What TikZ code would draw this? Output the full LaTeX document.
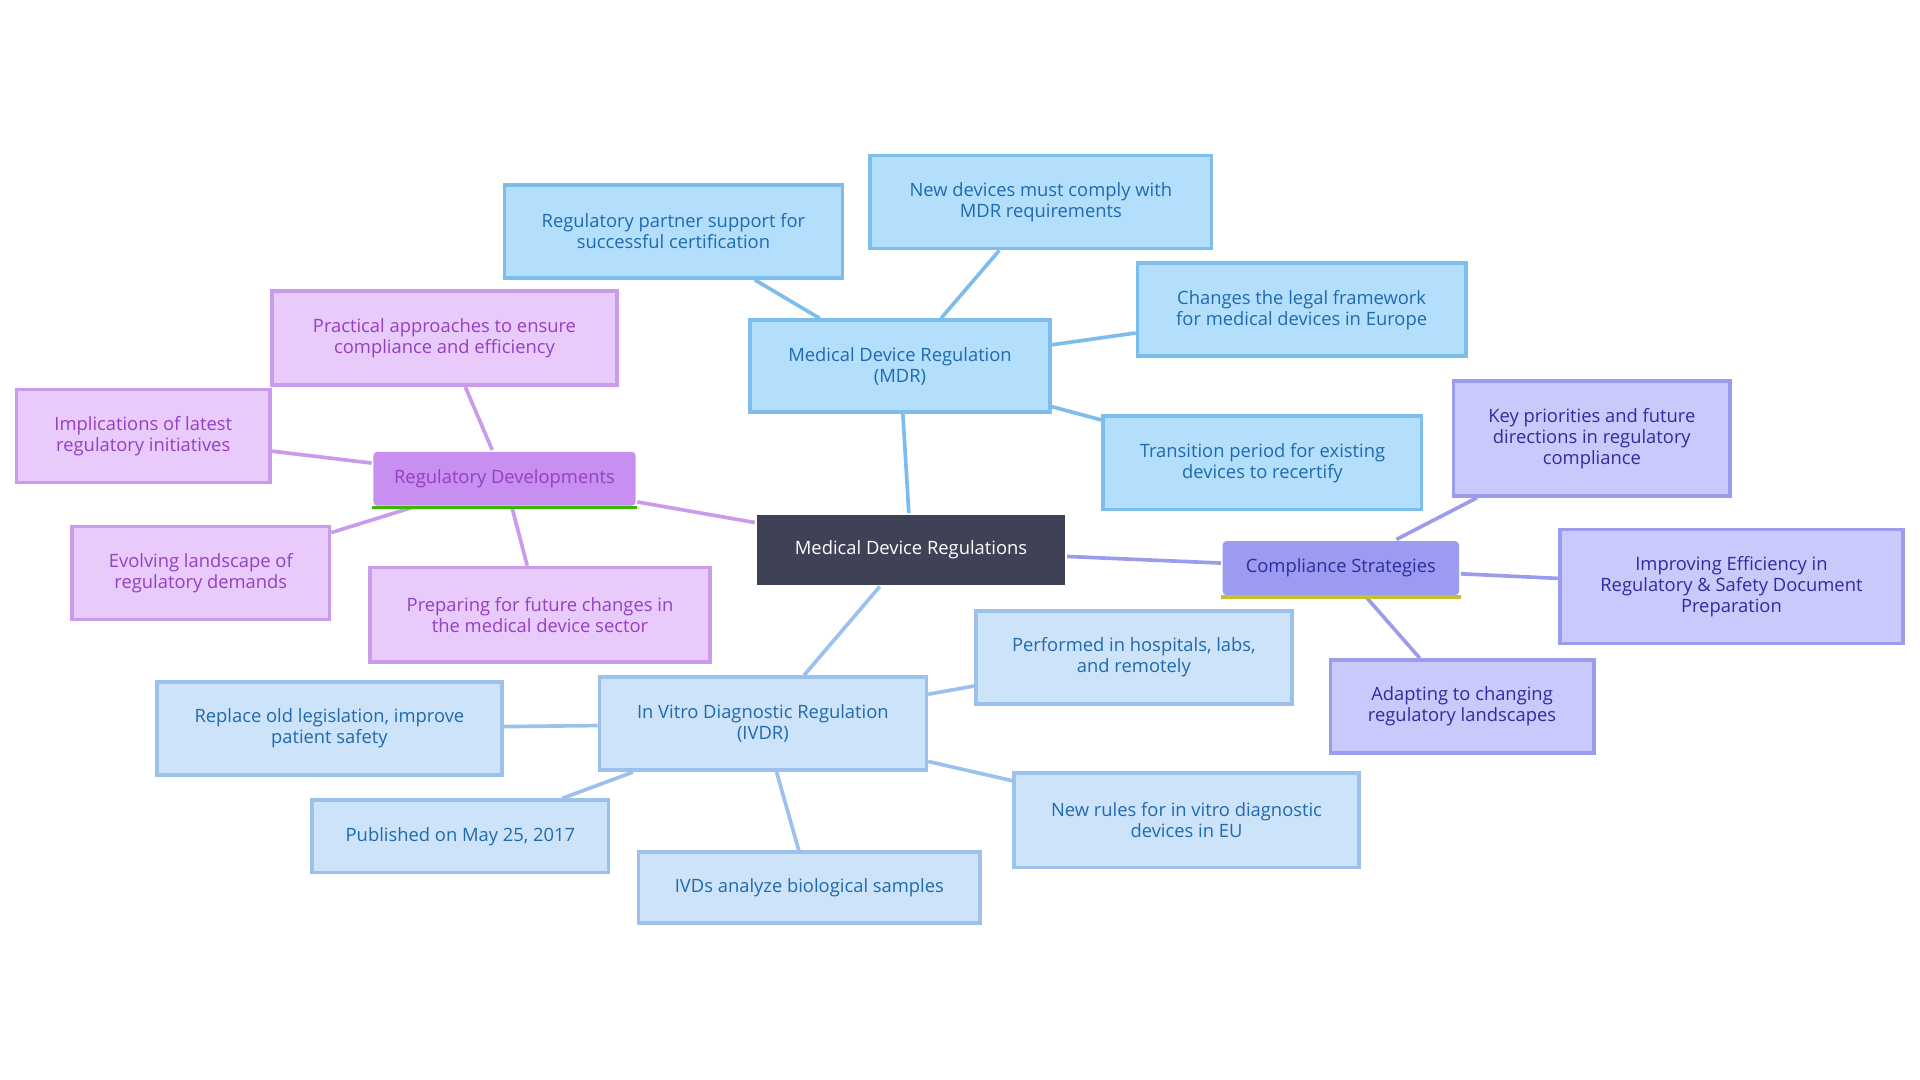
\documentclass[tikz,border=0pt]{standalone}
\usepackage{fontspec}
\setmainfont{Open Sans}
\usetikzlibrary{backgrounds}
\definecolor{rootfill}{HTML}{3F4157}
\definecolor{mdrfill}{HTML}{B3DFFC}
\definecolor{mdrline}{HTML}{7DBDEC}
\definecolor{mdrtext}{HTML}{1F6AAE}
\definecolor{ivdfill}{HTML}{CDE3F9}
\definecolor{ivdline}{HTML}{9BC1EC}
\definecolor{regfill}{HTML}{E8CAFB}
\definecolor{reghead}{HTML}{C88EF0}
\definecolor{regline}{HTML}{C99BEA}
\definecolor{regtext}{HTML}{9440C2}
\definecolor{csfill}{HTML}{C9C9FC}
\definecolor{cshead}{HTML}{9B9BF0}
\definecolor{csline}{HTML}{9C9CEC}
\definecolor{cstext}{HTML}{2D2DA0}
\tikzset{
  box/.style={draw,line width=3pt,align=center,inner sep=0pt,
    font=\fontsize{15}{17}\selectfont},
  mdr/.style={box,fill=mdrfill,draw=mdrline,text=mdrtext},
  ivd/.style={box,fill=ivdfill,draw=ivdline,text=mdrtext},
  reg/.style={box,fill=regfill,draw=regline,text=regtext},
  cs/.style={box,fill=csfill,draw=csline,text=cstext},
  link/.style={line width=3pt}
}
\begin{document}
\begin{tikzpicture}[x=1pt,y=-1pt]
\useasboundingbox (0,0) rectangle (1568,882);
% root
\node[box,fill=rootfill,draw=none,text=white,minimum width=252pt,minimum height=57pt] (root) at (744,449) {Medical Device Regulations};
% MDR branch
\node[mdr,minimum width=245pt,minimum height=75pt] (mdr) at (735,299) {Medical Device Regulation\\(MDR)};
\node[mdr,minimum width=276pt,minimum height=76pt] (mdrA) at (550,189) {Regulatory partner support for\\successful certification};
\node[mdr,minimum width=279pt,minimum height=76pt] (mdrB) at (850,165) {New devices must comply with\\MDR requirements};
\node[mdr,minimum width=268pt,minimum height=76pt] (mdrC) at (1063,253) {Changes the legal framework\\for medical devices in Europe};
\node[mdr,minimum width=260pt,minimum height=76pt] (mdrD) at (1031,378) {Transition period for existing\\devices to recertify};
% IVDR branch
\node[ivd,minimum width=267pt,minimum height=76pt] (ivd) at (623,591) {In Vitro Diagnostic Regulation\\(IVDR)};
\node[ivd,minimum width=258pt,minimum height=76pt] (ivdA) at (926,537) {Performed in hospitals, labs,\\and remotely};
\node[ivd,minimum width=282pt,minimum height=76pt] (ivdB) at (269,595) {Replace old legislation, improve\\patient safety};
\node[ivd,minimum width=242pt,minimum height=59pt] (ivdC) at (376,683) {Published on May 25, 2017};
\node[ivd,minimum width=279pt,minimum height=58pt] (ivdD) at (661,725) {IVDs analyze biological samples};
\node[ivd,minimum width=282pt,minimum height=77pt] (ivdE) at (969,670) {New rules for in vitro diagnostic\\devices in EU};
% regulatory developments branch
\node[box,fill=reghead,draw=none,text=regtext,rounded corners=3pt,minimum width=214pt,minimum height=44pt] (reg) at (412,391) {Regulatory Developments};
\draw[line width=3pt,green!60!black!70!lime] (reg.south west) -- (reg.south east);
\node[reg,minimum width=282pt,minimum height=77pt] (regA) at (363,276) {Practical approaches to ensure\\compliance and efficiency};
\node[reg,minimum width=207pt,minimum height=76pt] (regB) at (117,356) {Implications of latest\\regulatory initiatives};
\node[reg,minimum width=210pt,minimum height=76pt] (regC) at (164,468) {Evolving landscape of\\regulatory demands};
\node[reg,minimum width=278pt,minimum height=77pt] (regD) at (441,502) {Preparing for future changes in\\the medical device sector};
% compliance strategies branch
\node[box,fill=cshead,draw=none,text=cstext,rounded corners=3pt,minimum width=193pt,minimum height=44pt] (cs) at (1095,464) {Compliance Strategies};
\draw[line width=3pt,yellow!75!black] (cs.south west) -- (cs.south east);
\node[cs,minimum width=226pt,minimum height=94pt] (csA) at (1300,358) {Key priorities and future\\directions in regulatory\\compliance};
\node[cs,minimum width=280pt,minimum height=93pt] (csB) at (1414,479) {Improving Efficiency in\\Regulatory \& Safety Document\\Preparation};
\node[cs,minimum width=215pt,minimum height=76pt] (csC) at (1194,577) {Adapting to changing\\regulatory landscapes};
% links
\begin{scope}[on background layer]
\draw[link,mdrline] (root) -- (mdr);
\foreach \t in {mdrA,mdrB,mdrC,mdrD} \draw[link,mdrline] (mdr) -- (\t);
\draw[link,ivdline] (root) -- (ivd);
\foreach \t in {ivdA,ivdB,ivdC,ivdD,ivdE} \draw[link,ivdline] (ivd) -- (\t);
\draw[link,regline] (root) -- (reg);
\foreach \t in {regA,regB,regC,regD} \draw[link,regline] (reg) -- (\t);
\draw[link,csline] (root) -- (cs);
\foreach \t in {csA,csB,csC} \draw[link,csline] (cs) -- (\t);
\end{scope}
\end{tikzpicture}
\end{document}
